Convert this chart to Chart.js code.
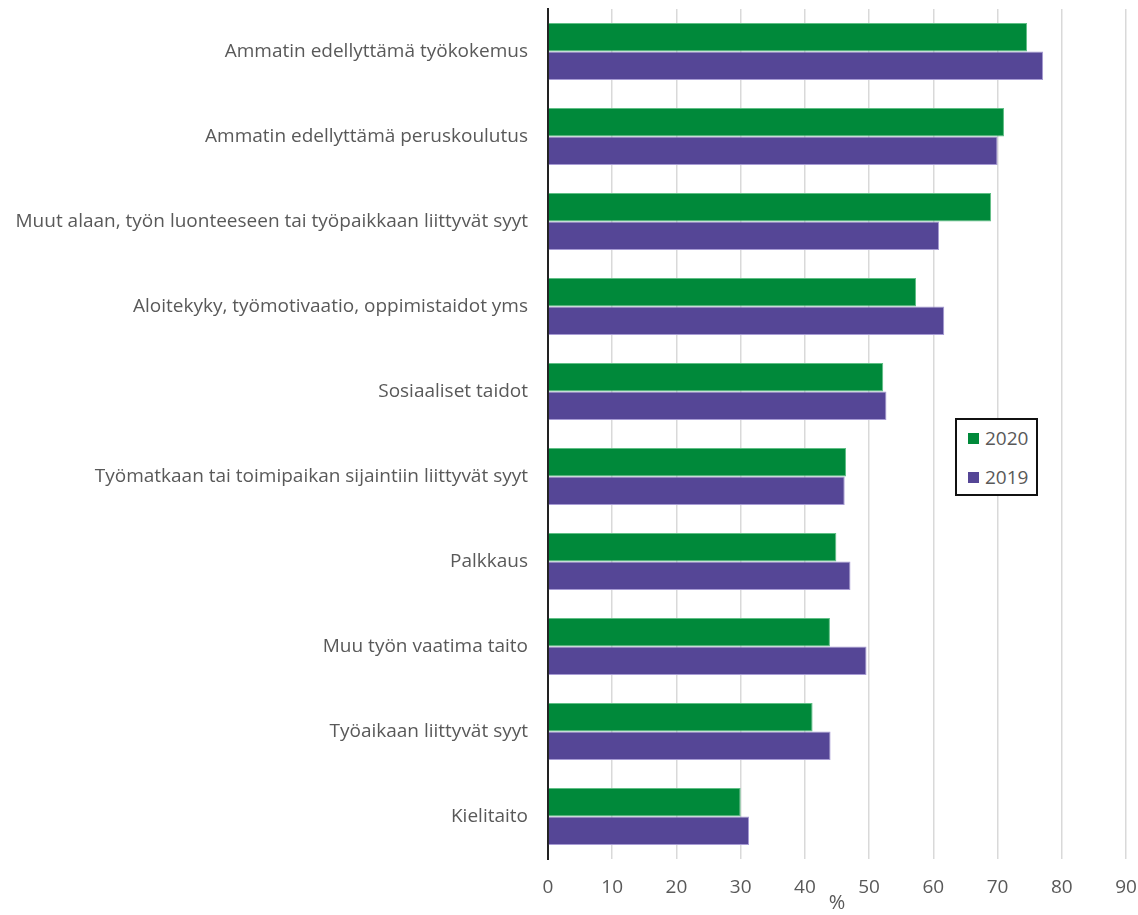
<!DOCTYPE html>
<html>
<head>
<meta charset="utf-8">
<script src="https://cdn.jsdelivr.net/npm/chart.js@4"></script>
<style>
  html, body { margin: 0; padding: 0; background: #fff; }
  #wrap { position: relative; width: 1138px; height: 915px; }
  #legend {
    position: absolute; left: 955px; top: 418px; width: 79px; height: 74px;
    border: 2px solid #111; background: #fff;
    font-family: "Open Sans", sans-serif; font-size: 19px; color: #595959;
  }
  #legend div { position: absolute; left: 11px; height: 22px; line-height: 22px; }
  #legend span { display: inline-block; width: 11px; height: 11px; margin-right: 6px; vertical-align: 1px; }
</style>
</head>
<body>
<div id="wrap">
  <canvas id="chart" width="1138" height="915"></canvas>
  <div id="legend"></div>
</div>
<script>
'use strict';

var categories = [
  'Ammatin edellyttämä työkokemus',
  'Ammatin edellyttämä peruskoulutus',
  'Muut alaan, työn luonteeseen tai työpaikkaan liittyvät syyt',
  'Aloitekyky, työmotivaatio, oppimistaidot yms',
  'Sosiaaliset taidot',
  'Työmatkaan tai toimipaikan sijaintiin liittyvät syyt',
  'Palkkaus',
  'Muu työn vaatima taito',
  'Työaikaan liittyvät syyt',
  'Kielitaito'
];
var values2020 = [74.6, 71.0, 69.0, 57.3, 52.2, 46.4, 44.9, 43.9, 41.2, 30.0];
var values2019 = [77.1, 70.0, 60.9, 61.7, 52.7, 46.2, 47.1, 49.6, 44.0, 31.3];
var seriesNames = ['2020', '2019'];
var seriesColors = ['#00893a', '#554696'];
var xTicks = [0, 10, 20, 30, 40, 50, 60, 70, 80, 90];

var font = '"Open Sans", sans-serif';
var textColor = '#595959';

var ctx = document.getElementById('chart').getContext('2d');
var chart = new Chart(ctx, {
  type: 'bar',
  data: {
    labels: categories,
    datasets: [{
      label: seriesNames[0],
      data: values2020,
      backgroundColor: seriesColors[0],
      borderColor: '#5fbf85',
      borderWidth: 1
    }, {
      label: seriesNames[1],
      data: values2019,
      backgroundColor: seriesColors[1],
      borderColor: '#a79bd4',
      borderWidth: 1
    }]
  },
  options: {
    indexAxis: 'y',
    responsive: false,
    animation: false,
    layout: { padding: { top: 9, right: 12, left: 0, bottom: 0 } },
    datasets: { bar: { barPercentage: 1, categoryPercentage: 0.67 } },
    plugins: {
      legend: { display: false },
      tooltip: { enabled: false }
    },
    scales: {
      x: {
        min: 0,
        max: 90,
        afterBuildTicks: function(scale) {
          scale.ticks = xTicks.map(function(v) { return { value: v }; });
        },
        grid: { color: '#d9d9d9', lineWidth: 1.5, drawTicks: false },
        border: { display: false },
        ticks: { font: { family: font, size: 19 }, color: textColor, padding: 17, maxRotation: 0 },
        title: {
          display: true, text: '%',
          font: { family: font, size: 20 }, color: textColor, padding: { top: 0, bottom: 0 }
        },
        afterFit: function(scale) {
          scale.height = 56;
          scale.paddingLeft = 0;
          scale.paddingRight = 0;
        }
      },
      y: {
        grid: { display: false, drawTicks: false },
        border: { display: true, color: '#222', width: 2 },
        ticks: { font: { family: font, size: 19 }, color: textColor, padding: 20 },
        afterFit: function(scale) {
          scale.width = 548;
          scale.paddingTop = 0;
          scale.paddingBottom = 0;
        }
      }
    }
  }
});

// legend box like the original, inside the plot
var legend = document.getElementById('legend');
for (var i = 0; i < seriesNames.length; i++) {
  var item = document.createElement('div');
  item.style.top = (7 + i * 39) + 'px';
  item.innerHTML = '<span style="background:' + seriesColors[i] + '"></span>' + seriesNames[i];
  legend.appendChild(item);
}
</script>
</body>
</html>
